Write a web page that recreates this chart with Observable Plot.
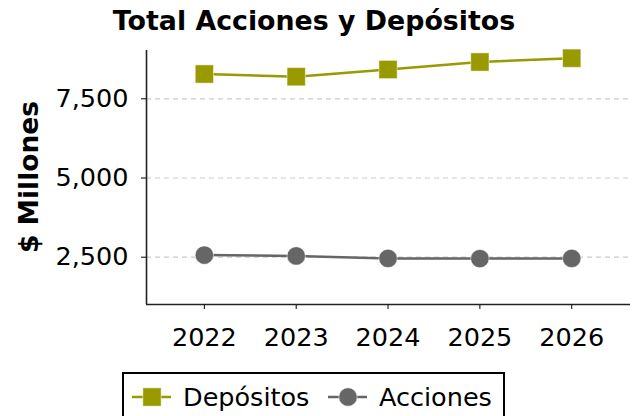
<!DOCTYPE html>
<html>
<head>
<meta charset="utf-8">
<script src="https://cdn.jsdelivr.net/npm/d3@7"></script>
<script src="https://cdn.jsdelivr.net/npm/@observablehq/plot@0.6"></script>
<style>
  html, body { margin: 0; padding: 0; background: #fff; }
  #wrap { position: relative; width: 636px; height: 416px; overflow: hidden; font-family: "DejaVu Sans", sans-serif; }
  #wrap > svg.overlay { position: absolute; left: 0; top: 0; pointer-events: none; }
</style>
</head>
<body>
<div id="wrap"></div>
<script>
const title = "Total Acciones y Depósitos";
const yLabel = "$ Millones";
const years = [2022, 2023, 2024, 2025, 2026];
const depositos = [8283, 8198, 8425, 8662, 8782];
const acciones = [2566, 2541, 2462, 2456, 2462];
const seriesNames = ["Depósitos", "Acciones"];
const seriesColors = ["#999900", "#666666"];
const seriesSymbols = ["square", "circle"];
const yTicks = [2500, 5000, 7500];
const xDomain = [2021.37, 2026.64];
const yDomain = [1007, 9025];

const rows = [];
years.forEach((y, i) => {
  rows.push({year: y, value: depositos[i], serie: seriesNames[0]});
  rows.push({year: y, value: acciones[i], serie: seriesNames[1]});
});

const fmt = d3.format(",");

const chart = Plot.plot({
  width: 636,
  height: 416,
  marginLeft: 146,
  marginRight: 6,
  marginTop: 50,
  marginBottom: 112,
  style: {fontFamily: "DejaVu Sans", fontSize: "25.5px", color: "#000", background: "transparent"},
  x: {domain: xDomain, ticks: years, tickFormat: d => String(d), tickSize: 5, tickPadding: 18, label: null},
  y: {domain: yDomain, ticks: yTicks, tickFormat: d => fmt(d), tickSize: 5, tickPadding: 13, label: null},
  color: {domain: seriesNames, range: seriesColors},
  symbol: {domain: seriesNames, range: seriesSymbols},
  marks: [
    Plot.gridY(yTicks, {stroke: "#cccccc", strokeOpacity: 1, strokeWidth: 1.2, strokeDasharray: "5,4"}),
    Plot.ruleX([xDomain[0]], {stroke: "#222", strokeWidth: 1.6}),
    Plot.ruleY([yDomain[0]], {stroke: "#222", strokeWidth: 1.6}),
    Plot.line(rows, {x: "year", y: "value", z: "serie", stroke: "serie", strokeWidth: 2.5}),
    Plot.dot(rows.filter(d => d.serie === seriesNames[0]), {x: "year", y: "value", symbol: "serie", fill: "serie", r: 10.3, stroke: "#fff", strokeWidth: 0.5}),
    Plot.dot(rows.filter(d => d.serie === seriesNames[1]), {x: "year", y: "value", symbol: "serie", fill: "serie", r: 9.2, stroke: "#fff", strokeWidth: 0.5})
  ]
});

const wrap = document.getElementById("wrap");
wrap.appendChild(chart);

const ov = d3.select(wrap).append("svg")
  .attr("class", "overlay")
  .attr("width", 636).attr("height", 416)
  .style("font-family", "'DejaVu Sans', sans-serif");

ov.append("text")
  .attr("x", 314).attr("y", 30)
  .attr("text-anchor", "middle")
  .attr("font-weight", "bold").attr("font-size", 26.8)
  .attr("fill", "#000")
  .text(title);

ov.append("text")
  .attr("transform", "translate(38,177) rotate(-90)")
  .attr("text-anchor", "middle")
  .attr("font-weight", "bold").attr("font-size", 26.5)
  .attr("fill", "#000")
  .text(yLabel);

// legend
const lg = ov.append("g");
lg.append("rect")
  .attr("x", 123).attr("y", 373).attr("width", 381).attr("height", 60)
  .attr("fill", "#fff").attr("stroke", "#000").attr("stroke-width", 2);

const legendX = [132, 328];
seriesNames.forEach((name, i) => {
  const x0 = legendX[i];
  const g = lg.append("g");
  g.append("line")
    .attr("x1", x0).attr("x2", x0 + 39).attr("y1", 397).attr("y2", 397)
    .attr("stroke", seriesColors[i]).attr("stroke-width", 2.5);
  const sym = d3.symbol().type(seriesSymbols[i] === "square" ? d3.symbolSquare : d3.symbolCircle)
    .size(seriesSymbols[i] === "square" ? 18.3 * 18.3 : Math.PI * 9.2 * 9.2);
  g.append("path")
    .attr("d", sym())
    .attr("transform", `translate(${x0 + 20},397)`)
    .attr("fill", seriesColors[i]).attr("stroke", "#fff").attr("stroke-width", 0.5);
  g.append("text")
    .attr("x", x0 + 51).attr("y", 406)
    .attr("font-size", 25.5).attr("fill", "#000")
    .text(name);
});
</script>
</body>
</html>
